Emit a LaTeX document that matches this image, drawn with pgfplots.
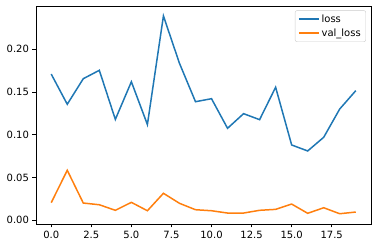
\documentclass[border=0pt]{standalone}
\usepackage{pgfplots}
\pgfplotsset{compat=1.18}
\usepackage{fontspec}
\setmainfont{DejaVu Sans}
\definecolor{mblue}{HTML}{1F77B4}
\definecolor{morange}{HTML}{FF7F0E}
\definecolor{lgray}{HTML}{CCCCCC}
\begin{document}
\begin{tikzpicture}
\path[use as bounding box] (-36pt,-24pt) rectangle (342pt,224pt);
\begin{axis}[
  at={(0pt,0pt)}, anchor=south west,
  scale only axis, width=335pt, height=218pt,
  xmin=-0.95, xmax=19.95, ymin=-0.0043, ymax=0.2506,
  xtick={0,2.5,...,17.5},
  ytick={0,0.05,0.10,0.15,0.20},
  tick align=outside, tick pos=left,
  major tick length=3.5pt,
  every tick/.style={black, line width=0.8pt},
  axis line style={black, line width=0.8pt},
  x tick label style={/pgf/number format/.cd, fixed, fixed zerofill, precision=1, assume math mode=true},
  y tick label style={/pgf/number format/.cd, fixed, fixed zerofill, precision=2, assume math mode=true},
  tick label style={font=\fontsize{10}{12}\selectfont},
  scaled y ticks=false,
  legend style={at={(0.985,0.98)}, anchor=north east, draw=lgray, rounded corners=2pt, fill=white, fill opacity=0.8, text opacity=1, font=\fontsize{10}{12}\selectfont, row sep=1pt, inner xsep=3pt, inner ysep=2pt},
  legend cell align=left,
  legend image code/.code={\draw[#1] (0pt,0pt) -- (20pt,0pt);},
]
\addplot[mblue, line width=1.5pt] coordinates {
(0,0.171) (1,0.1357) (2,0.1656) (3,0.1754) (4,0.118) (5,0.162) (6,0.112) (7,0.239)
(8,0.1836) (9,0.1387) (10,0.1422) (11,0.1076) (12,0.1247) (13,0.1177) (14,0.1556)
(15,0.0881) (16,0.0811) (17,0.0971) (18,0.1302) (19,0.1516)};
\addlegendentry{loss}
\addplot[morange, line width=1.5pt] coordinates {
(0,0.0206) (1,0.0585) (2,0.0202) (3,0.0182) (4,0.0117) (5,0.021) (6,0.0112) (7,0.0316)
(8,0.0199) (9,0.0124) (10,0.0112) (11,0.0085) (12,0.0085) (13,0.0117) (14,0.0128)
(15,0.019) (16,0.0082) (17,0.0147) (18,0.0077) (19,0.0097)};
\addlegendentry{val\_loss}
\end{axis}
\end{tikzpicture}
\end{document}
